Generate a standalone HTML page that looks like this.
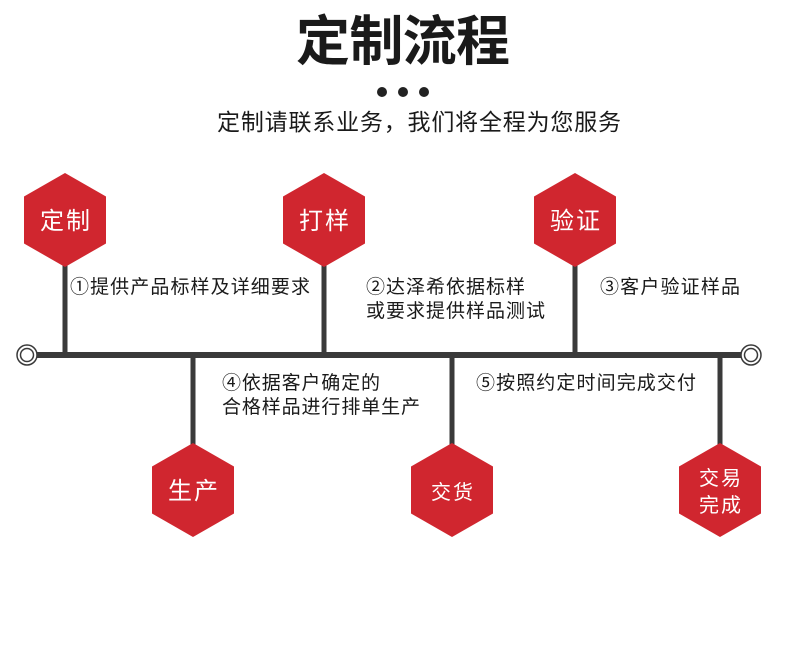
<!DOCTYPE html>
<html><head><meta charset="utf-8"><style>
body{margin:0;background:#fff}
svg text{font-family:"Liberation Sans","Noto Sans CJK SC",sans-serif}
</style></head><body>
<svg width="790" height="648" viewBox="0 0 790 648" xmlns="http://www.w3.org/2000/svg">
<rect width="790" height="648" fill="#fff"/>
<text x="296" y="60" font-size="54" font-weight="bold" fill="#1a1a1a" textLength="214" lengthAdjust="spacing">定制流程</text>
<circle cx="382" cy="92" r="5" fill="#222"/><circle cx="403" cy="92" r="5" fill="#222"/><circle cx="424" cy="92" r="5" fill="#222"/>
<text x="217" y="130" font-size="23" fill="#1a1a1a" textLength="404" lengthAdjust="spacing">定制请联系业务，我们将全程为您服务</text>
<g stroke="#3a3a3a" stroke-width="5">
<line x1="65" y1="265" x2="65" y2="355"/>
<line x1="324" y1="265" x2="324" y2="355"/>
<line x1="575" y1="265" x2="575" y2="355"/>
<line x1="193" y1="355" x2="193" y2="445"/>
<line x1="452" y1="355" x2="452" y2="445"/>
<line x1="720" y1="355" x2="720" y2="445"/>
</g>
<line x1="36" y1="355" x2="742" y2="355" stroke="#3a3a3a" stroke-width="6"/>
<g fill="#fff" stroke="#3a3a3a" stroke-width="1.5">
<circle cx="27" cy="355" r="10"/><circle cx="27" cy="355" r="6.5"/>
<circle cx="751" cy="355" r="10"/><circle cx="751" cy="355" r="6.5"/>
</g>
<g fill="#d0262f">
<polygon points="65,173 106,196.5 106,243.5 65,267 24,243.5 24,196.5"/>
<polygon points="324,173 365,196.5 365,243.5 324,267 283,243.5 283,196.5"/>
<polygon points="575,173 616,196.5 616,243.5 575,267 534,243.5 534,196.5"/>
<polygon points="193,443 234,466.5 234,513.5 193,537 152,513.5 152,466.5"/>
<polygon points="452,443 493,466.5 493,513.5 452,537 411,513.5 411,466.5"/>
<polygon points="720,443 761,466.5 761,513.5 720,537 679,513.5 679,466.5"/>
</g>
<g fill="#fff" font-size="24">
<text x="40" y="229" textLength="50" lengthAdjust="spacing">定制</text>
<text x="299" y="229" textLength="50" lengthAdjust="spacing">打样</text>
<text x="550" y="229" textLength="50" lengthAdjust="spacing">验证</text>
<text x="168" y="499" textLength="50" lengthAdjust="spacing">生产</text>
<text x="431" y="499" font-size="20" textLength="42" lengthAdjust="spacing">交货</text>
<text x="699" y="485" font-size="20" textLength="42" lengthAdjust="spacing">交易</text>
<text x="699" y="512" font-size="20" textLength="42" lengthAdjust="spacing">完成</text>
</g>
<g font-size="19" fill="#1a1a1a">
<text x="70" y="293" textLength="240" lengthAdjust="spacing">①提供产品标样及详细要求</text>
<text x="366" y="293" textLength="159" lengthAdjust="spacing">②达泽希依据标样</text>
<text x="366" y="317" textLength="179" lengthAdjust="spacing">或要求提供样品测试</text>
<text x="600" y="293" textLength="140" lengthAdjust="spacing">③客户验证样品</text>
<text x="222" y="389" textLength="158" lengthAdjust="spacing">④依据客户确定的</text>
<text x="222" y="413" textLength="198" lengthAdjust="spacing">合格样品进行排单生产</text>
<text x="476" y="389" textLength="220" lengthAdjust="spacing">⑤按照约定时间完成交付</text>
</g>
</svg>
</body></html>
